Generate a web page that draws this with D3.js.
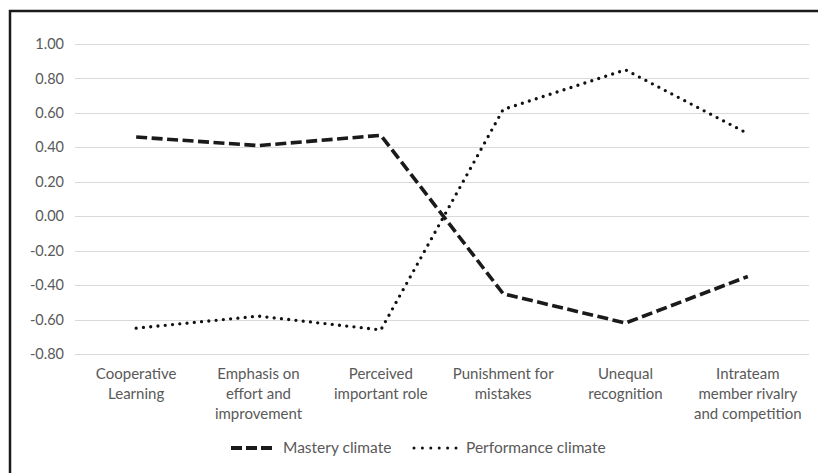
<!DOCTYPE html>
<html>
<head>
<meta charset="utf-8">
<script src="https://cdn.jsdelivr.net/npm/d3@7"></script>
<style>
  body { margin: 0; background: #fff; }
  svg { display: block; font-family: Lato, "Open Sans", sans-serif; }
</style>
</head>
<body>
<svg id="chart"></svg>
<script>
var categories = [
    ["Cooperative", "Learning"],
    ["Emphasis on", "effort and", "improvement"],
    ["Perceived", "important role"],
    ["Punishment for", "mistakes"],
    ["Unequal", "recognition"],
    ["Intrateam", "member rivalry", "and competition"]
];
var mastery = [0.46, 0.41, 0.47, -0.45, -0.62, -0.35];
var performance = [-0.65, -0.58, -0.66, 0.62, 0.85, 0.48];
var yTicks = [-0.8, -0.6, -0.4, -0.2, 0, 0.2, 0.4, 0.6, 0.8, 1.0];
var seriesNames = ["Mastery climate", "Performance climate"];

var width = 818, height = 473;
var margin = { top: 44, left: 75, right: 9, bottom: 119 };

var svg = d3.select("#chart")
            .attr("width", width)
            .attr("height", height);

// outer frame (cropped at right and bottom)
svg.append("rect")
   .attr("x", 10).attr("y", 11)
   .attr("width", width + 20).attr("height", height + 20)
   .attr("fill", "none")
   .attr("stroke", "#1a1a1a")
   .attr("stroke-width", 2.5);

var x = d3.scaleBand()
          .domain(d3.range(categories.length))
          .range([margin.left, width - margin.right]);

var y = d3.scaleLinear()
          .domain([-0.8, 1.0])
          .range([height - margin.bottom, margin.top]);

// gridlines
svg.append("g")
   .selectAll("line")
   .data(yTicks)
   .enter()
   .append("line")
   .attr("x1", margin.left)
   .attr("x2", width - margin.right)
   .attr("y1", function(d) { return Math.round(y(d)) + 0.5; })
   .attr("y2", function(d) { return Math.round(y(d)) + 0.5; })
   .attr("stroke", "#d9d9d9")
   .attr("stroke-width", 1);

// y labels
svg.append("g")
   .selectAll("text")
   .data(yTicks)
   .enter()
   .append("text")
   .attr("x", 64)
   .attr("y", function(d) { return y(d); })
   .attr("dy", "0.35em")
   .attr("text-anchor", "end")
   .style("font-size", "14.5px")
   .style("fill", "#595959")
   .text(function(d) { return d3.format(".2f")(d).replace("−", "-"); });

// category labels
var cat = svg.append("g")
             .selectAll("text")
             .data(categories)
             .enter()
             .append("text")
             .attr("text-anchor", "middle")
             .style("font-size", "15px")
             .style("fill", "#595959");
cat.selectAll("tspan")
   .data(function(d, i) { return d.map(function(s) { return { s: s, i: i }; }); })
   .enter()
   .append("tspan")
   .attr("x", function(d) { return x(d.i) + x.bandwidth() / 2; })
   .attr("y", function(d, j) { return 379 + j * 20; })
   .text(function(d) { return d.s; });

var line = d3.line()
             .x(function(d, i) { return x(i) + x.bandwidth() / 2; })
             .y(function(d) { return y(d); });

var dashStyle = { w: 3.6, dash: "11,4.5", cap: "butt" };
var dotStyle = { w: 3.3, dash: "0,7.3", cap: "round" };

svg.append("path")
   .datum(mastery)
   .attr("d", line)
   .attr("fill", "none")
   .attr("stroke", "#1a1a1a")
   .attr("stroke-width", dashStyle.w)
   .attr("stroke-linecap", dashStyle.cap)
   .attr("stroke-dasharray", dashStyle.dash);

svg.append("path")
   .datum(performance)
   .attr("d", line)
   .attr("fill", "none")
   .attr("stroke", "#111")
   .attr("stroke-width", dotStyle.w)
   .attr("stroke-linecap", dotStyle.cap)
   .attr("stroke-dasharray", dotStyle.dash);

// legend
var legend = svg.append("g");
legend.append("line")
      .attr("x1", 231).attr("x2", 272)
      .attr("y1", 448).attr("y2", 448)
      .attr("stroke", "#1a1a1a")
      .attr("stroke-width", 4)
      .attr("stroke-dasharray", "11,4");
legend.append("text")
      .attr("x", 283).attr("y", 448)
      .attr("dy", "0.35em")
      .style("font-size", "15.5px")
      .style("fill", "#595959")
      .text(seriesNames[0]);
legend.append("line")
      .attr("x1", 414).attr("x2", 456)
      .attr("y1", 448).attr("y2", 448)
      .attr("stroke", "#111")
      .attr("stroke-width", 3)
      .attr("stroke-linecap", "round")
      .attr("stroke-dasharray", "0,8.4");
legend.append("text")
      .attr("x", 466).attr("y", 448)
      .attr("dy", "0.35em")
      .style("font-size", "15.5px")
      .style("fill", "#595959")
      .text(seriesNames[1]);
</script>
</body>
</html>
